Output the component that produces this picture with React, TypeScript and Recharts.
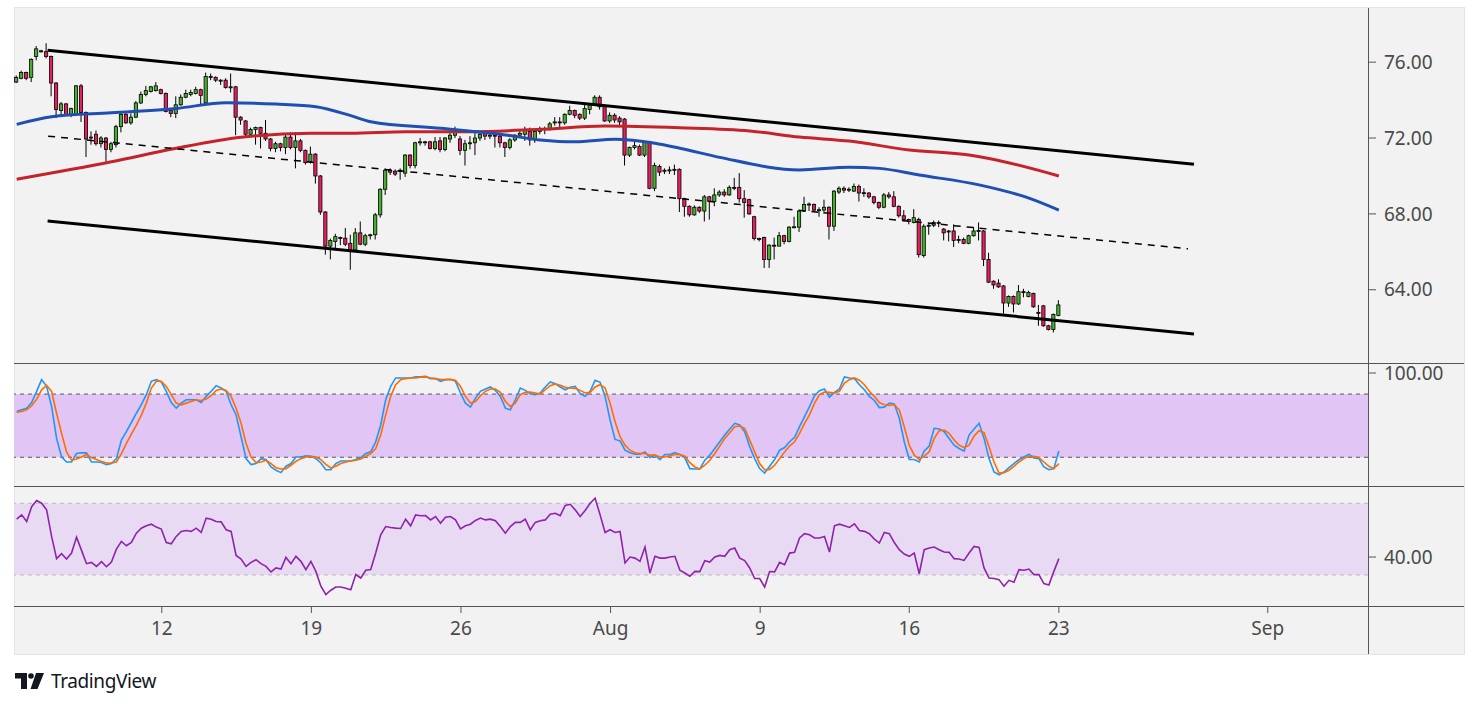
import {
  Bar,
  ComposedChart,
  Line,
  ReferenceArea,
  ReferenceLine,
  XAxis,
  YAxis,
} from "recharts";

// 4h candles, [open, high, low, close]
const candles: [number, number, number, number][] = [
  [74.95, 75.3, 74.9, 75.2], [75.15, 75.55, 75.1, 75.45], [75.45, 75.5, 75.05, 75.15], [75.2, 76.2, 74.95, 76.15],
  [76.3, 76.85, 76.1, 76.7], [76.55, 76.65, 76.5, 76.6], [76.55, 77.0, 76.2, 76.3], [76.3, 76.35, 74.2, 74.9],
  [74.9, 74.95, 73.05, 73.5], [73.45, 73.9, 73.1, 73.8], [73.8, 73.85, 73.15, 73.2], [73.2, 73.6, 73.1, 73.55],
  [73.25, 74.8, 73.2, 74.75], [74.75, 74.85, 72.85, 73.35], [73.35, 73.4, 71.0, 71.95], [72.0, 72.35, 71.65, 72.05],
  [72.2, 72.4, 71.6, 71.7], [71.7, 72.1, 71.5, 72.0], [72.0, 72.05, 70.75, 71.4], [71.4, 71.8, 71.25, 71.7],
  [71.65, 72.7, 71.5, 72.6], [72.6, 73.35, 72.3, 73.25], [73.25, 73.35, 72.75, 72.8], [72.8, 73.3, 72.7, 73.1],
  [73.1, 73.95, 73.05, 73.85], [73.85, 74.45, 73.8, 74.3], [74.3, 74.75, 74.2, 74.5], [74.45, 74.75, 74.4, 74.7],
  [74.5, 74.95, 74.45, 74.75], [74.55, 74.6, 74.3, 74.35], [74.35, 74.4, 73.35, 73.4], [73.45, 73.55, 73.1, 73.3],
  [73.3, 74.2, 73.05, 73.75], [73.75, 74.3, 73.7, 74.15], [74.15, 74.55, 74.1, 74.35], [74.3, 74.55, 74.2, 74.4],
  [74.35, 74.7, 74.3, 74.55], [74.55, 74.6, 73.7, 74.25], [73.85, 75.45, 73.8, 75.25], [75.2, 75.4, 75.05, 75.25],
  [75.2, 75.25, 74.95, 75.05], [75.0, 75.1, 74.8, 75.05], [75.05, 75.15, 74.6, 74.67], [74.65, 75.4, 74.4, 74.7],
  [74.7, 74.75, 72.15, 73.1], [73.1, 73.15, 72.7, 72.95], [72.9, 72.95, 72.05, 72.2], [72.2, 72.55, 72.1, 72.45],
  [72.45, 72.6, 71.65, 72.55], [72.55, 72.6, 71.45, 72.25], [72.25, 72.95, 71.85, 71.95], [71.95, 72.0, 71.3, 71.45],
  [71.45, 71.8, 71.25, 71.7], [71.7, 71.75, 71.3, 71.5], [71.5, 72.25, 71.15, 72.05], [72.05, 72.3, 71.4, 71.5],
  [71.5, 72.3, 70.4, 71.85], [71.85, 71.95, 71.25, 71.35], [71.35, 71.4, 70.6, 70.7], [70.75, 71.55, 70.65, 71.15],
  [71.15, 71.2, 69.6, 70.0], [70.0, 70.05, 67.95, 68.1], [68.1, 68.15, 65.85, 66.3], [66.3, 66.7, 65.6, 66.6],
  [66.55, 66.95, 66.2, 66.8], [66.75, 66.8, 66.35, 66.7], [66.72, 67.25, 66.3, 66.4], [66.45, 66.9, 65.05, 66.1],
  [66.1, 67.25, 66.0, 67.0], [67.0, 67.6, 66.35, 66.4], [66.4, 66.95, 66.3, 66.85], [66.85, 66.95, 66.65, 66.9],
  [66.9, 68.05, 66.65, 67.95], [67.95, 69.35, 67.8, 69.3], [69.3, 70.4, 69.0, 70.3], [70.3, 70.4, 70.05, 70.2],
  [70.25, 70.35, 70.0, 70.1], [70.25, 70.4, 69.8, 70.3], [70.15, 71.15, 69.95, 71.1], [71.1, 71.15, 70.4, 70.55],
  [70.55, 71.8, 70.4, 71.75], [71.75, 72.0, 71.6, 71.8], [71.8, 71.85, 71.6, 71.75], [71.8, 71.85, 71.4, 71.45],
  [71.45, 72.05, 71.35, 71.8], [71.85, 72.05, 71.25, 71.4], [71.4, 72.05, 71.3, 72.0], [71.95, 72.35, 71.75, 72.15],
  [72.15, 72.6, 72.0, 72.3], [71.95, 72.1, 71.1, 71.35], [71.35, 71.9, 70.55, 71.7], [71.7, 72.1, 71.4, 71.75],
  [71.75, 72.35, 71.1, 72.0], [72.0, 72.35, 71.85, 72.2], [72.25, 72.3, 71.9, 72.1], [72.1, 72.4, 71.95, 72.15],
  [72.15, 72.3, 71.5, 72.1], [72.1, 72.2, 71.5, 71.75], [71.75, 71.8, 71.0, 71.5], [71.5, 72.0, 71.4, 71.9],
  [71.9, 72.2, 71.8, 72.15], [72.15, 72.4, 72.05, 72.25], [72.2, 72.6, 71.85, 72.4], [72.35, 72.55, 71.6, 71.9],
  [71.9, 72.45, 71.75, 72.35], [72.35, 72.6, 72.2, 72.45], [72.45, 72.6, 72.2, 72.5], [72.45, 72.85, 72.4, 72.75],
  [72.8, 73.1, 72.65, 72.85], [72.85, 73.1, 72.5, 72.8], [72.8, 73.3, 72.7, 73.25], [73.25, 73.7, 73.2, 73.45],
  [73.45, 73.5, 73.05, 73.2], [73.25, 73.3, 72.95, 73.05], [73.05, 73.75, 72.95, 73.55], [73.5, 73.85, 73.25, 73.75],
  [73.8, 74.25, 73.75, 74.15], [74.15, 74.25, 73.5, 73.65], [73.65, 73.75, 72.85, 72.9], [72.9, 73.35, 72.8, 73.2],
  [73.2, 73.3, 72.8, 72.95], [73.05, 73.15, 72.6, 72.85], [73.0, 73.05, 70.55, 71.1], [71.1, 71.55, 71.0, 71.5],
  [71.5, 71.85, 71.4, 71.6], [71.55, 71.65, 71.05, 71.1], [71.1, 71.85, 71.0, 71.8], [71.8, 71.85, 69.3, 69.35],
  [69.35, 70.7, 69.2, 70.55], [70.5, 70.6, 70.0, 70.2], [70.25, 70.4, 70.1, 70.3], [70.3, 70.5, 70.1, 70.32],
  [70.3, 70.6, 70.05, 70.35], [70.35, 70.4, 68.1, 68.8], [68.8, 68.85, 67.85, 68.4], [68.4, 68.45, 67.85, 67.95],
  [67.95, 68.45, 67.9, 68.35], [68.35, 68.4, 68.05, 68.15], [68.15, 69.0, 67.6, 68.9], [68.9, 68.95, 67.7, 68.65],
  [68.65, 69.35, 68.4, 69.0], [69.0, 69.25, 68.9, 69.15], [69.15, 69.3, 68.9, 69.0], [69.0, 69.5, 68.95, 69.4],
  [69.4, 69.9, 69.25, 69.35], [69.4, 70.15, 68.6, 68.8], [68.8, 69.25, 67.8, 68.6], [68.75, 68.8, 67.95, 68.0],
  [67.85, 67.9, 66.6, 66.7], [66.7, 66.75, 66.55, 66.65], [66.75, 66.8, 65.15, 65.6], [65.6, 66.4, 65.15, 66.35],
  [66.35, 66.75, 65.6, 66.3], [66.3, 67.05, 66.3, 66.85], [66.85, 66.9, 66.4, 66.55], [66.55, 67.35, 66.5, 67.3],
  [67.3, 67.85, 67.25, 67.32], [67.3, 68.2, 67.05, 68.15], [68.15, 68.9, 68.1, 68.5], [68.5, 68.6, 68.15, 68.52],
  [68.5, 68.55, 68.1, 68.2], [68.2, 68.35, 67.85, 68.22], [68.2, 68.75, 68.0, 68.35], [68.35, 68.4, 66.65, 67.35],
  [67.35, 69.25, 67.1, 69.2], [69.15, 69.45, 69.05, 69.35], [69.35, 69.45, 69.1, 69.25], [69.25, 69.4, 69.15, 69.3],
  [69.2, 69.6, 69.15, 69.45], [69.45, 69.55, 68.65, 69.1], [69.1, 69.35, 68.9, 69.12], [69.1, 69.15, 68.8, 68.9],
  [68.9, 68.95, 68.5, 68.6], [68.6, 68.65, 68.25, 68.35], [68.35, 69.1, 68.3, 69.0], [69.0, 69.15, 68.8, 68.9],
  [68.9, 69.2, 68.35, 68.4], [68.4, 68.45, 67.8, 67.9], [67.9, 68.2, 67.6, 67.7], [67.7, 67.75, 67.45, 67.6],
  [67.55, 68.25, 67.5, 67.8], [67.7, 67.8, 65.7, 65.85], [65.8, 67.45, 65.7, 67.35], [67.35, 67.5, 66.9, 67.4],
  [67.4, 67.65, 67.3, 67.55], [67.55, 67.65, 67.3, 67.5], [67.2, 67.25, 66.6, 67.0], [67.05, 67.15, 66.55, 67.1],
  [67.1, 67.45, 66.25, 66.6], [66.6, 66.85, 66.45, 66.65], [66.65, 66.75, 66.4, 66.45], [66.45, 66.9, 66.4, 66.85],
  [66.85, 67.3, 66.8, 67.1], [67.1, 67.55, 66.6, 67.12], [67.1, 67.15, 65.25, 65.6], [65.6, 65.95, 64.35, 64.4],
  [64.45, 64.5, 64.05, 64.25], [64.35, 64.55, 64.1, 64.15], [64.2, 64.25, 62.75, 63.3], [63.3, 63.7, 63.1, 63.65],
  [63.65, 63.7, 62.8, 63.25], [63.25, 64.25, 63.2, 63.9], [63.9, 64.05, 63.6, 63.85], [63.65, 63.95, 63.6, 63.85],
  [63.8, 63.85, 63.05, 63.1], [62.8, 63.2, 62.1, 62.75], [63.15, 63.2, 62.05, 62.1], [62.1, 62.15, 61.85, 61.9],
  [61.9, 62.75, 61.75, 62.7], [62.65, 63.45, 62.6, 63.2],
];

const stochK = [
  63.4, 65, 66.6, 72, 82.5, 93.7, 87.3, 68.2, 37.9, 20.3, 15.5, 15.5, 23.5, 24.2, 24.2, 15.5, 15.5, 15, 13, 14,
  18.7, 36.3, 44.3, 53, 61.8, 70, 79.4, 92.1, 93.7, 91.5, 82.6, 72, 66.6, 71.4, 74.6, 74.6, 74.6, 72, 77.8, 82.6,
  88, 85.7, 82.6, 69.8, 60.2, 39.5, 18.7, 13, 14, 18.7, 17.8, 10.8, 7.6, 5.4, 11.5, 14, 20.3, 20.3, 21.3, 21,
  18.7, 14.6, 8.2, 8.2, 14, 16.5, 16.5, 16.5, 17.8, 19.7, 23.5, 25.1, 34.7, 50.6, 74.6, 87.3, 95.3, 95.3, 95.3, 95.3,
  96.3, 96.3, 96.9, 94.7, 94.7, 92.1, 93.7, 94, 92.1, 81, 71.4, 67.6, 76.2, 82.6, 84.8, 86.7, 83.5, 77.8, 66.6, 65,
  74.6, 85.7, 83.5, 80.3, 79.4, 81, 86.7, 91.5, 89.9, 86.7, 84.1, 86.4, 87.3, 80.3, 77.8, 82.6, 93.1, 91.2, 77.8, 55.4,
  36.9, 35.6, 26.7, 24.2, 22.9, 22.9, 25.1, 19.7, 22, 17.8, 22.6, 22.6, 24.5, 22.6, 19.4, 9.2, 8.9, 8.9, 17.2, 22,
  28.3, 34.7, 41.1, 46.8, 52.2, 50.6, 44.3, 29.9, 18.7, 9.2, 5, 11.5, 17.8, 26.7, 29.2, 34.7, 38.9, 49, 58.6, 68.2,
  78.4, 83.2, 84.8, 77.1, 81.6, 84.8, 96.3, 95.3, 94.7, 88.9, 84.1, 77.8, 73.9, 67.2, 67.6, 71.4, 70.7, 57, 34.7, 17.8,
  17.8, 15.5, 26, 30.6, 47.5, 46.8, 44.3, 37.9, 31.5, 28.3, 25.8, 41.1, 46.8, 52.2, 37.9, 18.7, 6, 3.4, 6, 10.1,
  14, 17.8, 20.3, 22.9, 19.4, 18.7, 10.8, 8.2, 9.2, 26,
];

const stochD = [
  62.8, 63.5, 65, 69, 75, 84, 88.3, 82.5, 61.8, 42.7, 25.1, 17.2, 18.4, 20.3, 22.6, 19.7, 17.8, 16, 14.6, 14.5,
  15.5, 23.5, 33.1, 42, 50.6, 60, 71.4, 85.7, 92.1, 92.1, 87.3, 79.4, 71.4, 69.8, 71.4, 73, 74.6, 73.9, 75.2, 78.4,
  83.5, 84.8, 83.5, 77.8, 66.6, 52.2, 33.1, 20.3, 14.9, 15.5, 17.2, 14, 10.1, 8.9, 9.2, 12.4, 16.2, 18.7, 20.3, 21,
  20.3, 17.8, 13.3, 9.8, 11.4, 14, 15.5, 16.5, 17.2, 18.4, 21, 23.5, 28.3, 41.1, 60.2, 77.8, 88.9, 93.7, 94.7, 95.3,
  95.3, 96, 96.3, 95.3, 94.7, 93.7, 93.7, 93.7, 93.1, 87.3, 77.8, 71.4, 73, 78.4, 82.6, 84.8, 84.8, 81.6, 73, 68.2,
  71.4, 79.4, 81.6, 81.9, 80.9, 80, 84.1, 88, 89.6, 88.3, 86.4, 85.7, 85.4, 83.5, 81, 81.6, 86.7, 88.9, 85.7, 71.4,
  53.8, 39.5, 31.5, 26.7, 24.2, 23.5, 23.5, 22, 22, 20.3, 20.3, 21.3, 22.9, 22.6, 21, 14.9, 10.8, 8.9, 12.4, 17.2,
  23.5, 30.6, 37.9, 43.3, 49, 49.7, 47.5, 36.3, 25.1, 14, 8.2, 8.5, 12.4, 18.7, 25.1, 30.6, 34.7, 42.7, 52.2, 60.2,
  71.4, 79.4, 81.9, 81.6, 81, 82.6, 90.5, 93.7, 95.3, 93.1, 88.9, 82.6, 77.8, 72, 69.8, 69.2, 69.8, 65, 49, 31.5,
  22, 17.8, 21, 25.1, 37.9, 45.2, 45.9, 42.7, 36.3, 31.5, 29.2, 31.5, 40.1, 45.2, 43.3, 29.9, 15.5, 5, 5.4, 7.6,
  11.4, 15.5, 18.7, 21, 21, 19.7, 15.5, 11.4, 9.2, 14,
];

const rsiValues = [
  61.1, 63.5, 59.8, 68.1, 71.5, 70, 66.3, 51.5, 39.1, 41.9, 38.9, 42.2, 51.1, 43.7, 36.3, 37, 34.8, 37.4, 34.6, 37.2,
  44.4, 48.7, 46.3, 48.1, 53.3, 56.1, 57.4, 58.3, 56.7, 55.6, 48.1, 47.4, 51.5, 54.3, 54.8, 54.3, 56.1, 53.7, 61.7, 61.1,
  59.8, 59.6, 55.2, 54.3, 40.9, 38.9, 34.8, 37, 38.5, 36.3, 34.8, 31.7, 33.9, 33.3, 39.8, 36.3, 40.4, 37.6, 33, 37.6,
  32, 23.7, 19.1, 21.5, 23.3, 23.3, 22.6, 21.8, 30.2, 28.3, 32.6, 33, 42.2, 52.4, 57, 56.5, 56.1, 55.9, 61.1, 57.4,
  63.5, 63, 63.1, 60.7, 62.6, 58.9, 62.2, 62.6, 60.7, 55.7, 57.4, 58.3, 60.4, 61.7, 60.7, 61.1, 60.2, 57, 53.3, 57,
  59.3, 59.3, 61.1, 55.2, 59.3, 60.2, 60.7, 63.9, 64.4, 63.1, 68.7, 69.4, 66.3, 62.6, 65.9, 70, 72.8, 63.5, 53.7, 55.2,
  53.7, 54.3, 36.7, 40, 39.4, 37.6, 45.6, 31.1, 40.4, 39.4, 39.4, 40, 40.4, 32.6, 31.1, 29.3, 32, 31.9, 38, 37.2,
  40, 40.9, 40.4, 44.1, 45, 39.4, 38, 33.9, 28, 28, 23.3, 31.9, 31.7, 37, 35.7, 42.2, 42.6, 50.6, 53, 52.4,
  50.6, 50.6, 51.5, 42.8, 57.4, 58.3, 57.4, 56.5, 58.5, 54.8, 54.3, 53, 50, 47.8, 53.7, 53, 48.1, 44.1, 41.7, 40.4,
  42.2, 30.7, 44.1, 45, 45.6, 44.1, 42.8, 42.6, 39.1, 38.9, 38.1, 42.2, 45.9, 45.4, 33.9, 28.3, 28, 27.4, 23.7, 27,
  25.9, 33, 32.6, 33.3, 30.2, 30.2, 25.2, 24.4, 32, 39.1,
];

// moving averages read at candle index
const maBlue: [number, number][] = [
  [0, 72.72], [7, 73.12], [19, 73.33], [32, 73.56], [42, 73.86], [52, 73.79], [60, 73.65], [67, 73.18],
  [71, 72.86], [85, 72.51], [98, 72.16], [105, 71.9], [112, 71.8], [120, 71.93], [128, 71.72], [133, 71.46],
  [141, 70.98], [157, 70.32], [167, 70.46], [173, 70.4], [181, 70.05], [193, 69.53], [203, 68.83], [209, 68.2],
];
const maRed: [number, number][] = [
  [0, 69.83], [19, 70.75], [32, 71.46], [45, 72.04], [59, 72.25], [67, 72.25], [78, 72.33], [91, 72.33],
  [105, 72.46], [118, 72.63], [133, 72.54], [147, 72.37], [157, 72.05], [167, 71.84], [179, 71.37], [191, 71.1],
  [198, 70.75], [209, 70.0],
];

// channel drawn on the chart: [startIndex, startPrice, endIndex, endPrice]
const channelTop = [6.2, 76.63, 236.1, 70.62];
const channelBottom = [6.2, 67.63, 236.1, 61.67];
const channelMid = [6.3, 72.1, 234.9, 66.16];

const timeTicks = [29.1, 59.1, 89.1, 119.1, 149.1, 179.0, 209.0, 250.9];
const timeLabels = ["12", "19", "26", "Aug", "9", "16", "23", "Sep"];
const priceTicks = [64, 68, 72, 76];

const X_DOMAIN: [number, number] = [-0.54, 271.0];
const FONT = "'Noto Sans', sans-serif";
const AXIS_TEXT = { fill: "#4a4a4a", fontSize: 19, fontFamily: FONT };
const GREEN = "#45b02c";
const RED = "#e91e5f";

const blueAt = new Map(maBlue);
const redAt = new Map(maRed);
const rows = candles.map(([o, h, l, c], i) => ({
  i,
  o,
  h,
  l,
  c,
  k: stochK[i],
  d: stochD[i],
  rsi: rsiValues[i],
  blue: blueAt.get(i),
  red: redAt.get(i),
}));

function Candle(props: any) {
  const { x, y, width, height, payload } = props;
  if (!payload || y == null || height == null) return null;
  const top = Math.min(y, y + height);
  const span = Math.abs(height);
  const { o, h, l, c } = payload;
  const py = (p: number) => top + ((h - p) / (h - l)) * span;
  const cx = x + width / 2;
  const y1 = py(Math.max(o, c));
  const y2 = py(Math.min(o, c));
  return (
    <g>
      <line x1={cx} x2={cx} y1={top} y2={top + span} stroke="#000" strokeWidth={1} />
      <rect
        x={cx - 1.6}
        y={y1}
        width={3.2}
        height={Math.max(y2 - y1, 1)}
        fill={c >= o ? GREEN : RED}
        stroke="#000"
        strokeWidth={0.8}
      />
    </g>
  );
}

function segment(s: number[]) {
  return [
    { x: s[0], y: s[1] },
    { x: s[2], y: s[3] },
  ];
}

const rightAxis = {
  orientation: "right" as const,
  width: 96,
  axisLine: false,
  tickSize: 8,
  tickMargin: 8,
  tickLine: { stroke: "#555" },
  tick: AXIS_TEXT,
  allowDataOverflow: true,
  tickFormatter: (v: number) => v.toFixed(2),
};

const line = (color: string, w = 1.6) => ({
  stroke: color,
  strokeWidth: w,
  dot: false,
  activeDot: false,
  isAnimationActive: false,
});

function Logo() {
  return (
    <div
      style={{
        position: "absolute",
        left: 15,
        top: 668,
        display: "flex",
        alignItems: "center",
        gap: 7,
        color: "#131722",
        fontFamily: FONT,
        fontSize: 19,
      }}
    >
      <svg width={29} height={16} viewBox="0 0 29 16">
        <path d="M0 0h12v16H6V5.5H0z" fill="#131722" />
        <circle cx={16} cy={3} r={2.8} fill="#131722" />
        <path d="M21 0h8l-6.5 16h-7z" fill="#131722" />
      </svg>
      <span style={{ letterSpacing: -0.4 }}>TradingView</span>
    </div>
  );
}

const rule = (s: React.CSSProperties) => (
  <div style={{ position: "absolute", background: "#555", ...s }} />
);

export default function App() {
  return (
    <div
      style={{
        position: "absolute",
        left: 0,
        top: 0,
        width: 1479,
        height: 707,
        background: "#fff",
        overflow: "hidden",
        fontFamily: FONT,
      }}
    >
      <div
        style={{
          position: "absolute",
          left: 14,
          top: 7,
          width: 1451,
          height: 648,
          background: "#f2f2f2",
          border: "1px solid #e3e4ea",
          boxSizing: "border-box",
        }}
      />

      <div style={{ position: "absolute", left: 14, top: 8 }}>
        <ComposedChart width={1450} height={355} data={rows} margin={{ top: 0, right: 0, bottom: 0, left: 0 }}>
          <XAxis type="number" dataKey="i" domain={X_DOMAIN} allowDataOverflow hide />
          <YAxis {...rightAxis} domain={[60.138, 78.856]} ticks={priceTicks} />
          <Line type="monotone" dataKey="red" connectNulls {...line("#c4232b", 3)} />
          <Line type="monotone" dataKey="blue" connectNulls {...line("#1f4fb2", 3)} />
          <ReferenceLine segment={segment(channelTop)} stroke="#000" strokeWidth={3} ifOverflow="visible" />
          <ReferenceLine segment={segment(channelBottom)} stroke="#000" strokeWidth={3} ifOverflow="visible" />
          <ReferenceLine
            segment={segment(channelMid)}
            stroke="#000"
            strokeWidth={1.5}
            strokeDasharray="7 6"
            ifOverflow="visible"
          />
          <Bar dataKey={(d: any) => [d.l, d.h]} barSize={4} shape={Candle} isAnimationActive={false} />
        </ComposedChart>
      </div>

      <div style={{ position: "absolute", left: 14, top: 351 }}>
        <ComposedChart width={1450} height={135} data={rows} margin={{ top: 12, right: 0, bottom: 0, left: 0 }}>
          <XAxis type="number" dataKey="i" domain={X_DOMAIN} allowDataOverflow hide />
          <YAxis {...rightAxis} domain={[-7.3, 109.5]} ticks={[0, 100]} />
          <ReferenceArea y1={20} y2={80} fill="#e1c5f4" fillOpacity={1} stroke="none" />
          <ReferenceLine y={80} stroke="#5a5a5a" strokeDasharray="4 4" />
          <ReferenceLine y={20} stroke="#5a5a5a" strokeDasharray="4 4" />
          <Line type="linear" dataKey="k" {...line("#2196f3")} />
          <Line type="linear" dataKey="d" {...line("#ff6d00")} />
        </ComposedChart>
      </div>

      <div style={{ position: "absolute", left: 14, top: 486 }}>
        <ComposedChart width={1450} height={168} data={rows} margin={{ top: 0, right: 0, bottom: 0, left: 0 }}>
          <XAxis
            type="number"
            dataKey="i"
            domain={X_DOMAIN}
            allowDataOverflow
            ticks={timeTicks}
            tickFormatter={(v: number) => timeLabels[timeTicks.indexOf(v)] ?? ""}
            height={48}
            axisLine={false}
            tickSize={7}
            tickMargin={9}
            tickLine={{ stroke: "#555" }}
            tick={AXIS_TEXT}
            interval={0}
          />
          <YAxis {...rightAxis} domain={[12.7, 79.6]} ticks={[40]} />
          <ReferenceArea y1={30} y2={70} fill="#e9daf4" fillOpacity={1} stroke="none" />
          <ReferenceLine y={70} stroke="#b9b9b9" strokeDasharray="4 4" />
          <ReferenceLine y={30} stroke="#b9b9b9" strokeDasharray="4 4" />
          <Line type="linear" dataKey="rsi" {...line("#8e24aa")} />
        </ComposedChart>
      </div>

      {rule({ left: 1368, top: 8, width: 1, height: 646 })}
      {rule({ left: 14, top: 363, width: 1450, height: 1 })}
      {rule({ left: 14, top: 486, width: 1450, height: 1 })}
      {rule({ left: 14, top: 606, width: 1450, height: 1 })}

      <Logo />
    </div>
  );
}
